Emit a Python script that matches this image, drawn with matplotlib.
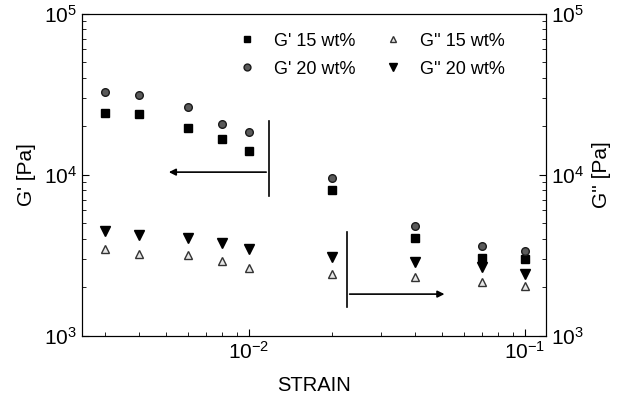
import matplotlib
matplotlib.use("Agg")
import matplotlib.pyplot as plt
from matplotlib.ticker import LogLocator, NullFormatter, FixedLocator, FixedFormatter

plt.rcParams['font.family'] = ['Liberation Sans', 'DejaVu Sans']
plt.rcParams['mathtext.default'] = 'regular'

# ---- data ----
strain = [0.003, 0.004, 0.006, 0.008, 0.01, 0.02, 0.04, 0.07, 0.1]
g1_15 = [24200, 23800, 19400, 16600, 14000, 8070, 4030, 3030, 3000]
g1_20 = [32500, 31200, 26300, 20600, 18400, 9510, 4810, 3600, 3360]
g2_15 = [3430, 3210, 3180, 2915, 2630, 2410, 2310, 2150, 2030]
g2_20 = [4480, 4210, 4030, 3770, 3450, 3070, 2860, 2660, 2410]

labels = ["G' 15 wt%", "G' 20 wt%", "G'' 15 wt%", "G'' 20 wt%"]

# annotation guides (data coordinates)
left_bar_x = 0.0118
left_bar_y = (7340, 21500)
left_arrow_y = 10360
left_arrow_end = 0.0050
right_bar_x = 0.0226
right_bar_y = (1500, 4400)
right_arrow_y = 1810
right_arrow_end = 0.0522

xlim = (0.00248, 0.119)
ylim = (1e3, 1e5)

fig = plt.figure(figsize=(6.25, 4.0), dpi=100)
ax = fig.add_axes([0.1312, 0.161, 0.7424, 0.805])

ms = 5.5
h1, = ax.plot(strain, g1_15, 's', color='black', ms=ms, ls='none', label=labels[0])
h2, = ax.plot(strain, g1_20, 'o', mfc='#5a5a5a', mec='#1a1a1a', mew=1.0, ms=ms, ls='none', label=labels[1])
h3, = ax.plot(strain, g2_15, '^', mfc='#e6e6e6', mec='#333333', mew=1.0, ms=ms, ls='none', label=labels[2])
h4, = ax.plot(strain, g2_20, 'v', color='black', ms=ms + 1, ls='none', label=labels[3])

# guide lines and arrows
ax.plot([left_bar_x, left_bar_x], left_bar_y, color='black', lw=1.2)
ax.annotate('', xy=(left_arrow_end, left_arrow_y), xytext=(left_bar_x, left_arrow_y),
            arrowprops=dict(arrowstyle='-|>', color='black', lw=1.2, mutation_scale=10))
ax.plot([right_bar_x, right_bar_x], right_bar_y, color='black', lw=1.2)
ax.annotate('', xy=(right_arrow_end, right_arrow_y), xytext=(right_bar_x, right_arrow_y),
            arrowprops=dict(arrowstyle='-|>', color='black', lw=1.2, mutation_scale=10))

ax.set_xscale('log')
ax.set_yscale('log')
ax.set_xlim(*xlim)
ax.set_ylim(*ylim)

ax.xaxis.set_major_locator(FixedLocator([1e-2, 1e-1]))
ax.xaxis.set_major_formatter(FixedFormatter(['$10^{-2}$', '$10^{-1}$']))
ax.xaxis.set_minor_locator(LogLocator(base=10, subs=range(2, 10)))
ax.xaxis.set_minor_formatter(NullFormatter())
ax.yaxis.set_major_locator(FixedLocator([1e3, 1e4, 1e5]))
ax.yaxis.set_major_formatter(FixedFormatter(['$10^{3}$', '$10^{4}$', '$10^{5}$']))
ax.yaxis.set_minor_locator(LogLocator(base=10, subs=range(2, 10)))
ax.yaxis.set_minor_formatter(NullFormatter())

ax.tick_params(which='both', direction='in', top=False, right=False, labelsize=15)
ax.tick_params(which='major', length=5)
ax.tick_params(which='minor', length=3)

ax2 = ax.twinx()
ax2.set_yscale('log')
ax2.set_ylim(*ylim)
ax2.yaxis.set_major_locator(FixedLocator([1e3, 1e4, 1e5]))
ax2.yaxis.set_major_formatter(FixedFormatter(['$10^{3}$', '$10^{4}$', '$10^{5}$']))
ax2.yaxis.set_minor_locator(LogLocator(base=10, subs=range(2, 10)))
ax2.yaxis.set_minor_formatter(NullFormatter())
ax2.tick_params(which='both', direction='in', labelsize=15)
ax2.tick_params(which='major', length=5)
ax2.tick_params(which='minor', length=3)

ax.set_xlabel('STRAIN', fontsize=14.5, labelpad=10)
ax.set_ylabel("G' [Pa]", fontsize=15, labelpad=6)
ax2.set_ylabel("G'' [Pa]", fontsize=15, labelpad=6)

ax.legend(handles=[h1, h2, h3, h4], ncol=2, frameon=False, fontsize=13,
          loc='upper left', bbox_to_anchor=(0.301, 0.991), handletextpad=1.0,
          columnspacing=1.55, labelspacing=0.6, handlelength=1.0, borderpad=0.4,
          markerscale=0.9)

fig.savefig('out.png', dpi=100)
